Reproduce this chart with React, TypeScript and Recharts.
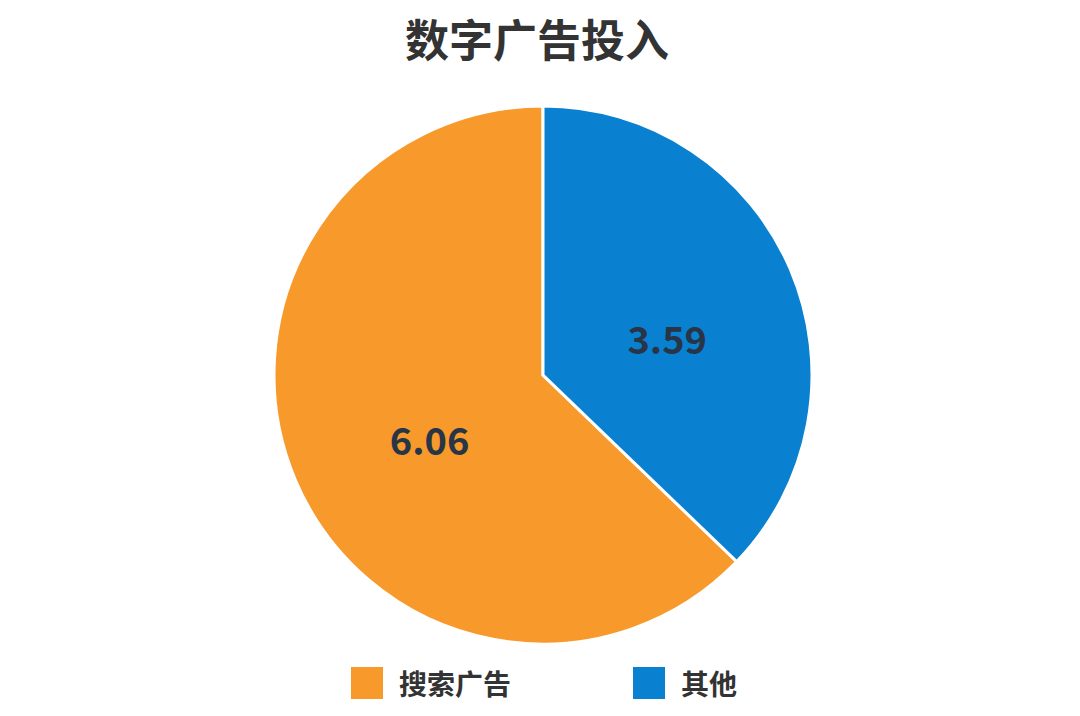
import React from "react";
import { PieChart, Pie, Cell, Legend } from "recharts";

const categories = ["搜索广告", "其他"];
const values = [6.06, 3.59];
const colors = ["#F79A2B", "#0A80D1"];
const title = "数字广告投入";

const data = categories.map((name, i) => ({ name, value: values[i] }));

const FONT = "'Noto Sans CJK SC', 'Noto Sans', sans-serif";

const renderLabel = (props: any) => {
  const { cx, cy, midAngle, outerRadius, value } = props;
  const RAD = Math.PI / 180;
  const r = outerRadius * 0.48;
  const x = cx + r * Math.cos(-midAngle * RAD) + outerRadius * 0.02;
  const y = cy + r * Math.sin(-midAngle * RAD) + outerRadius * 0.05;
  return (
    <text
      x={x}
      y={y}
      textAnchor="middle"
      dominantBaseline="central"
      fill="#283546"
      fontFamily={FONT}
      fontWeight={700}
      fontSize={38}
    >
      {value.toFixed(2)}
    </text>
  );
};

const renderLegend = () => (
  <div
    style={{
      display: "flex",
      justifyContent: "center",
      alignItems: "center",
      gap: 122,
      fontFamily: FONT,
      paddingLeft: 8,
    }}
  >
    {categories.map((c, i) => (
      <div key={c} style={{ display: "flex", alignItems: "center", gap: 16 }}>
        <div style={{ width: 32, height: 32, background: colors[i] }} />
        <span style={{ fontSize: 28, fontWeight: 700, color: "#333", lineHeight: "32px" }}>{c}</span>
      </div>
    ))}
  </div>
);

export default function App() {
  return (
    <div style={{ position: "absolute", left: 0, top: 0, width: 1080, height: 716, background: "#fff" }}>
      <div
        style={{
          position: "absolute",
          left: 0,
          top: 8,
          width: 1074,
          textAlign: "center",
          fontFamily: FONT,
          fontWeight: 700,
          fontSize: 44,
          color: "#333",
          lineHeight: "60px",
        }}
      >
        {title}
      </div>
      <PieChart width={1080} height={716} style={{ position: "absolute", left: 0, top: 0 }}>
        <Pie
          data={data}
          dataKey="value"
          nameKey="name"
          cx={538}
          cy={370}
          outerRadius={269}
          startAngle={90}
          endAngle={450}
          stroke="#ffffff"
          strokeWidth={3}
          label={renderLabel}
          labelLine={false}
          isAnimationActive={false}
        >
          {data.map((d, i) => (
            <Cell key={d.name} fill={colors[i]} />
          ))}
        </Pie>
        <Legend
          content={renderLegend}
          wrapperStyle={{ position: "absolute", left: 0, top: 667, width: 1080 }}
        />
      </PieChart>
    </div>
  );
}
